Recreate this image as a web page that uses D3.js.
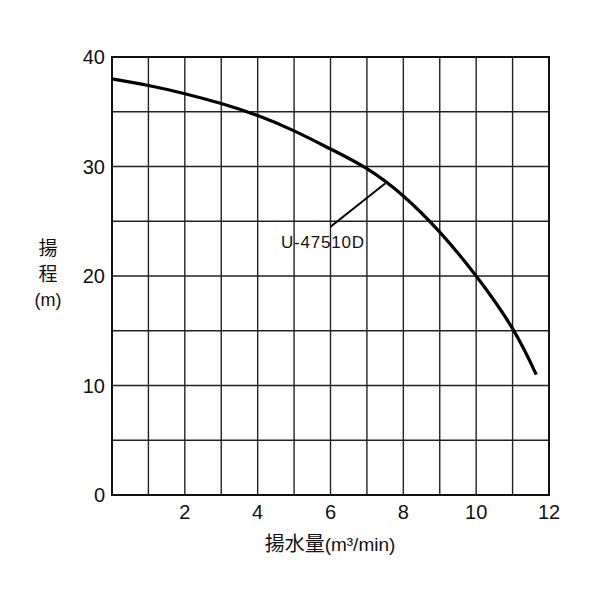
<!DOCTYPE html>
<html><head><meta charset="utf-8">
<script src="https://cdn.jsdelivr.net/npm/d3@7"></script>
<style>body{margin:0;background:#fff}svg{display:block}</style>
</head><body>
<svg id="c" width="600" height="600"></svg>
<script>
const flow = [0, 1, 2, 3, 4, 5, 6, 7, 8, 9, 10, 11, 11.65];
const head = [38, 37.4, 36.65, 35.75, 34.65, 33.25, 31.6, 29.8, 27.3, 24.0, 20, 15.2, 11];
const xTicks = [2, 4, 6, 8, 10, 12];
const yTicks = [0, 10, 20, 30, 40];
const seriesName = "U-47510D";

const svg = d3.select("#c");
const L = 112, R = 549, T = 57, B = 495;
const x = d3.scaleLinear().domain([0, 12]).range([L, R]);
const y = d3.scaleLinear().domain([0, 40]).range([B, T]);
const font = "'Liberation Sans', 'Noto Sans CJK JP', sans-serif";
const jfont = "'Noto Sans CJK JP', 'Liberation Sans', sans-serif";

const g = svg.append("g");
g.selectAll("line.v").data(d3.range(1, 12)).join("line")
  .attr("x1", d => x(d)).attr("x2", d => x(d)).attr("y1", T).attr("y2", B)
  .attr("stroke", "#222").attr("stroke-width", 1.4);
g.selectAll("line.h").data(d3.range(5, 40, 5)).join("line")
  .attr("x1", L).attr("x2", R).attr("y1", d => y(d)).attr("y2", d => y(d))
  .attr("stroke", "#222").attr("stroke-width", 1.4);
g.append("rect").attr("x", L).attr("y", T).attr("width", R - L).attr("height", B - T)
  .attr("fill", "none").attr("stroke", "#111").attr("stroke-width", 2);

g.selectAll("text.xt").data(xTicks).join("text")
  .attr("x", d => x(d)).attr("y", 519).attr("text-anchor", "middle")
  .attr("font-family", font).attr("font-size", 20).attr("fill", "#111").text(d => d);
g.selectAll("text.yt").data(yTicks).join("text")
  .attr("x", 105).attr("y", d => y(d) + 7).attr("text-anchor", "end")
  .attr("font-family", font).attr("font-size", 20).attr("fill", "#111").text(d => d);

const pts = flow.map((f, i) => [f, head[i]]);
g.append("path").datum(pts)
  .attr("d", d3.line().x(d => x(d[0])).y(d => y(d[1])).curve(d3.curveNatural))
  .attr("fill", "none").attr("stroke", "#000").attr("stroke-width", 3.2);

g.append("line").attr("x1", x(7.5)).attr("y1", y(28.45)).attr("x2", x(6.0)).attr("y2", y(24.5))
  .attr("stroke", "#000").attr("stroke-width", 2);
g.append("text").attr("x", 323).attr("y", 248).attr("text-anchor", "middle")
  .attr("font-family", font).attr("font-size", 17).attr("letter-spacing", 0.8)
  .attr("fill", "#111").text(seriesName);

const yLines = [["揚", 255, jfont, 19], ["程", 281, jfont, 19], ["(m)", 306, font, 18]];
g.selectAll("text.yl").data(yLines).join("text")
  .attr("x", 48).attr("y", d => d[1]).attr("text-anchor", "middle")
  .attr("font-family", d => d[2]).attr("font-size", d => d[3]).attr("fill", "#111").text(d => d[0]);

const xt = g.append("text").attr("x", 330).attr("y", 551).attr("text-anchor", "middle")
  .attr("font-family", jfont).attr("font-size", 20).attr("fill", "#111");
xt.append("tspan").text("揚水量");
xt.append("tspan").attr("font-family", font).attr("font-size", 19).text("(m³/min)");
</script>
</body></html>
